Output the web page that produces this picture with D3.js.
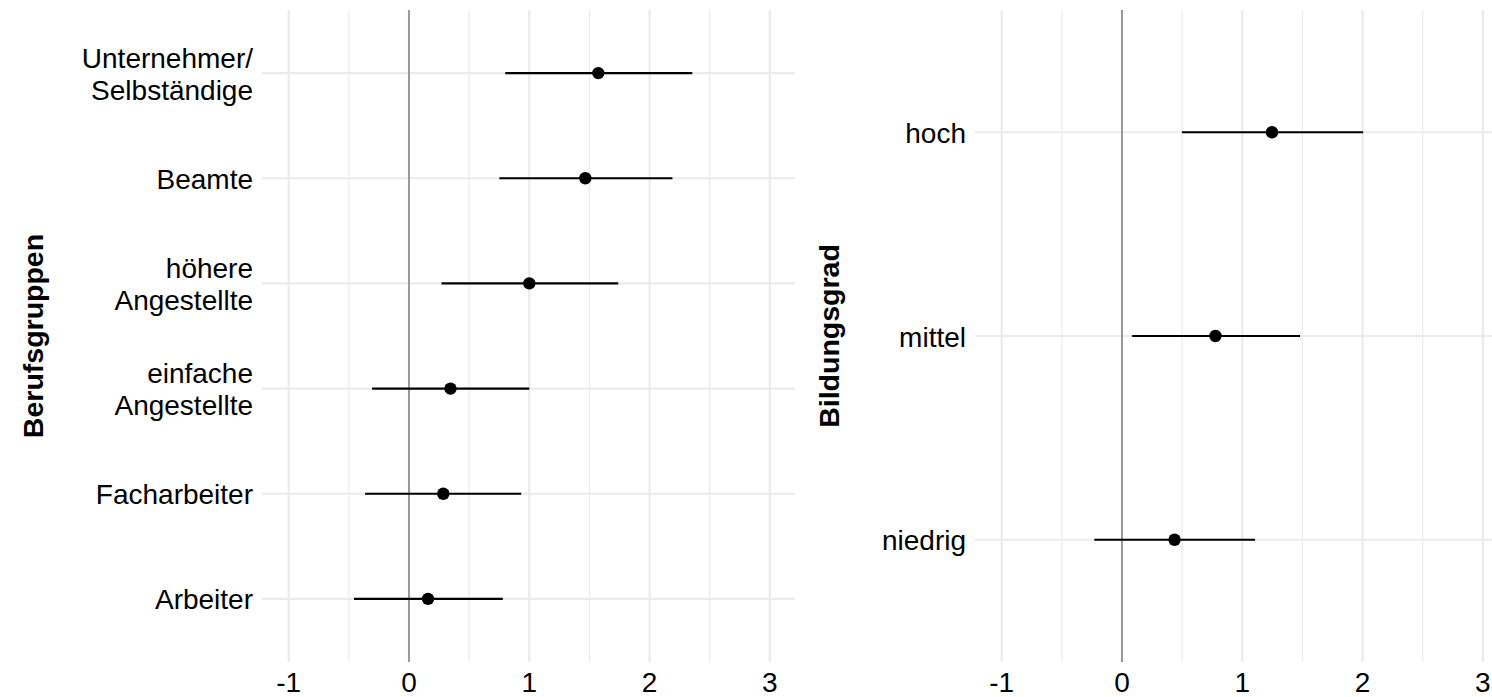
<!DOCTYPE html>
<html>
<head>
<meta charset="utf-8">
<script src="https://cdn.jsdelivr.net/npm/d3@7"></script>
<style>
  body { margin: 0; background: #fff; }
  text { font-family: "Liberation Sans", Arial, sans-serif; }
</style>
</head>
<body>
<script>
// Berufsgruppen (bottom to top)
var berufCats = ["Arbeiter", "Facharbeiter", "einfache\nAngestellte", "höhere\nAngestellte", "Beamte", "Unternehmer/\nSelbständige"];
var berufEst = [0.158, 0.285, 0.345, 1.0, 1.466, 1.574];
var berufLow = [-0.457, -0.365, -0.307, 0.27, 0.751, 0.80];
var berufHigh = [0.78, 0.933, 1.0, 1.74, 2.19, 2.355];

// Bildungsgrad (bottom to top)
var bildCats = ["niedrig", "mittel", "hoch"];
var bildEst = [0.437, 0.777, 1.247];
var bildLow = [-0.23, 0.085, 0.498];
var bildHigh = [1.106, 1.48, 2.005];

var xTicks = [-1, 0, 1, 2, 3];
var xMinor = [-0.5, 0.5, 1.5, 2.5];
var xDomain = [-1.222, 3.209];

var svgWidth = 1492, svgHeight = 697;
var svg = d3.select("body").append("svg")
    .attr("width", svgWidth).attr("height", svgHeight);

function drawPanel(cats, est, low, high, title, left, titleX) {
    var top = 10, bottom = 662, width = 533;
    var x = d3.scaleLinear().domain(xDomain).range([left, left + width]);
    // ggplot style discrete scale: positions 1..n with 0.6 expansion
    var y = d3.scaleLinear().domain([0.4, cats.length + 0.6]).range([bottom, top]);
    var g = svg.append("g");

    g.selectAll("line.minor").data(xMinor).enter().append("line")
        .attr("x1", x).attr("x2", x).attr("y1", top).attr("y2", bottom)
        .attr("stroke", "#ebebeb").attr("stroke-width", 1.2);
    g.selectAll("line.major").data(xTicks).enter().append("line")
        .attr("x1", x).attr("x2", x).attr("y1", top).attr("y2", bottom)
        .attr("stroke", "#ebebeb").attr("stroke-width", 2.2);
    g.selectAll("line.hgrid").data(cats).enter().append("line")
        .attr("x1", left).attr("x2", left + width)
        .attr("y1", function (d, i) { return y(i + 1); })
        .attr("y2", function (d, i) { return y(i + 1); })
        .attr("stroke", "#ebebeb").attr("stroke-width", 2.2);

    // zero line
    g.append("line").attr("x1", x(0)).attr("x2", x(0))
        .attr("y1", top).attr("y2", bottom)
        .attr("stroke", "#999999").attr("stroke-width", 2);

    // x tick labels
    g.selectAll("text.xt").data(xTicks).enter().append("text")
        .attr("x", x).attr("y", 692)
        .attr("text-anchor", "middle").attr("font-size", 28)
        .attr("fill", "#000")
        .text(function (d) { return d; });

    // y tick labels
    cats.forEach(function (c, i) {
        var lines = c.split("\n");
        var t = g.append("text")
            .attr("x", left - 9).attr("text-anchor", "end")
            .attr("font-size", 28).attr("fill", "#000");
        var lh = 32;
        var y0 = y(i + 1) + 10.5 - (lines.length - 1) * lh / 2;
        lines.forEach(function (l, k) {
            t.append("tspan").attr("x", left - 9).attr("y", y0 + k * lh).text(l);
        });
    });

    // error bars
    g.selectAll("line.err").data(est).enter().append("line")
        .attr("x1", function (d, i) { return x(low[i]); })
        .attr("x2", function (d, i) { return x(high[i]); })
        .attr("y1", function (d, i) { return y(i + 1); })
        .attr("y2", function (d, i) { return y(i + 1); })
        .attr("stroke", "#000").attr("stroke-width", 2.2);
    g.selectAll("circle.pt").data(est).enter().append("circle")
        .attr("cx", function (d) { return x(d); })
        .attr("cy", function (d, i) { return y(i + 1); })
        .attr("r", 6.2).attr("fill", "#000");

    // axis title
    g.append("text")
        .attr("transform", "translate(" + titleX + "," + ((top + bottom) / 2) + ") rotate(-90)")
        .attr("text-anchor", "middle").attr("font-size", 28.5)
        .attr("font-weight", "bold").attr("fill", "#000")
        .text(title);
}

drawPanel(berufCats, berufEst, berufLow, berufHigh, "Berufsgruppen", 262, 43);
drawPanel(bildCats, bildEst, bildLow, bildHigh, "Bildungsgrad", 975, 839);
</script>
</body>
</html>
